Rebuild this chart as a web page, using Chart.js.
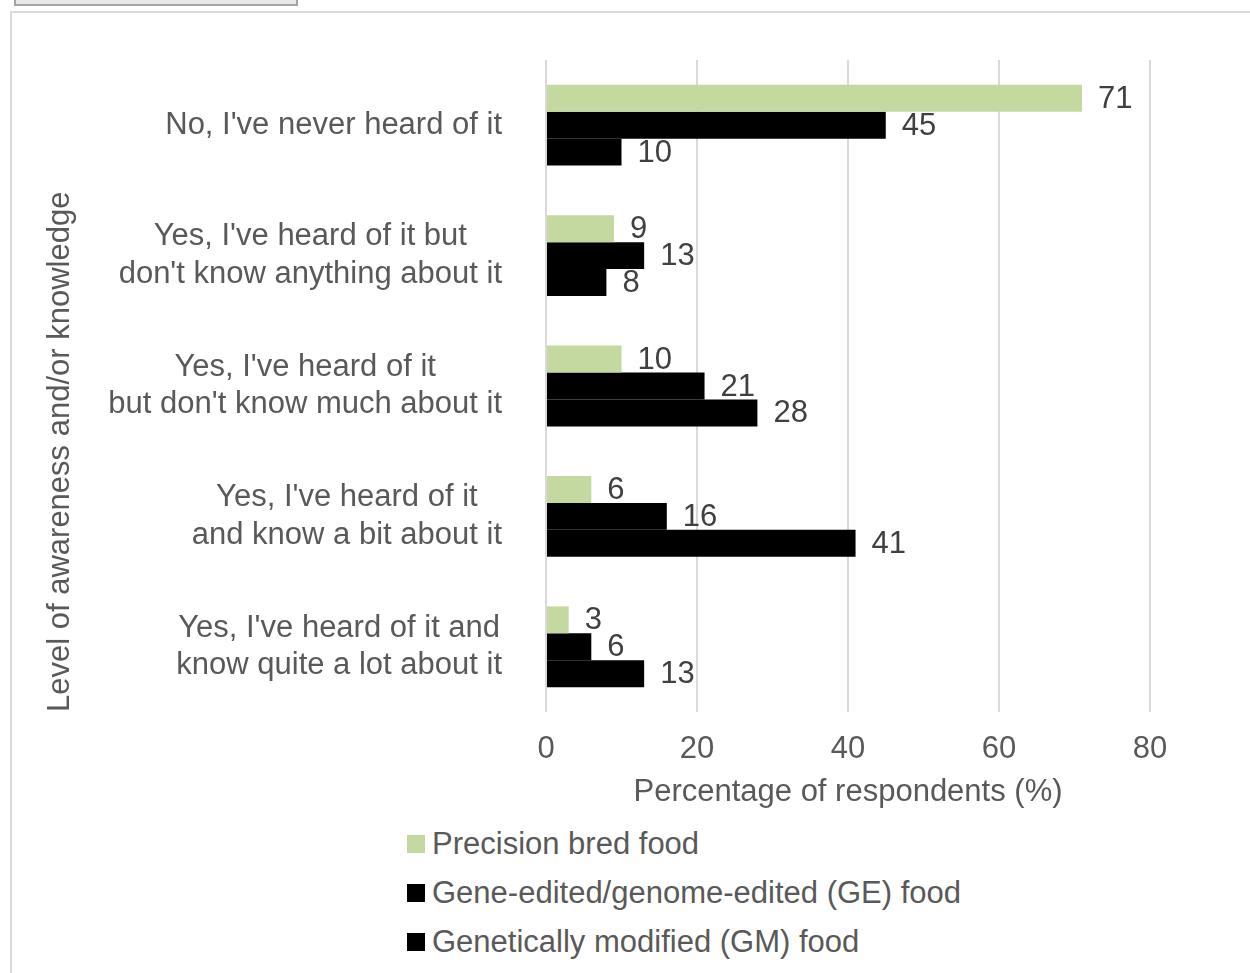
<!DOCTYPE html>
<html lang="en">
<head>
<meta charset="utf-8">
<title>Awareness of food breeding technologies</title>
<script src="https://cdn.jsdelivr.net/npm/chart.js@4.4.1/dist/chart.umd.min.js"></script>
<style>
  body { margin: 0; background: #fff; font-family: "Liberation Sans", Arial, sans-serif; overflow: hidden; }
  #wrap { position: relative; width: 1250px; height: 973px; overflow: hidden; }
  .tab { position: absolute; left: 14px; top: -30px; width: 280px; height: 32px; background: #e9e9e9; border: 2px solid #a6a6a6; }
  .frame { position: absolute; left: 10px; top: 11px; width: 1300px; height: 1000px; border: 2px solid #dadada; }
  #box { position: absolute; left: 0; top: 0; width: 1250px; height: 811px; }
  #legend { position: absolute; left: 407px; top: 819px; }
  .item { display: flex; align-items: center; height: 49px; font-size: 31px; color: #595959; }
  .sw { width: 18px; height: 18px; margin-right: 7px; }
</style>
</head>
<body>
<div id="wrap">
  <div class="tab"></div>
  <div class="frame"></div>
  <div id="box"><canvas id="myChart"></canvas></div>
  <div id="legend"></div>
</div>
<script>
var categories = [
  ["No, I've never heard of it"],
  ["Yes, I've heard of it but", "don't know anything about it"],
  ["Yes, I've heard of it", "but don't know much about it"],
  ["Yes, I've heard of it", "and know a bit about it"],
  ["Yes, I've heard of it and", "know quite a lot about it"]
];
var seriesNames = ['Precision bred food', 'Gene-edited/genome-edited (GE) food', 'Genetically modified (GM) food'];
var precisionBred = [71, 9, 10, 6, 3];
var geneEdited = [45, 13, 21, 16, 6];
var genModified = [10, 8, 28, 41, 13];
var xTicks = [0, 20, 40, 60, 80];
var colors = ['#c4d9a0', '#000000', '#000000'];

var FONT = '"Liberation Sans", Arial, sans-serif';
var SIZE = 31;
var GREY = '#595959';

// value next to the end of each bar
var barValues = {
  id: 'barValues',
  afterDatasetsDraw: function(chart) {
    var ctx = chart.ctx;
    ctx.save();
    ctx.font = SIZE + 'px ' + FONT;
    ctx.fillStyle = '#404040';
    ctx.textAlign = 'left';
    ctx.textBaseline = 'middle';
    chart.data.datasets.forEach(function(ds, i) {
      chart.getDatasetMeta(i).data.forEach(function(bar, j) {
        ctx.fillText(ds.data[j], bar.x + 16, bar.y + 1);
      });
    });
    ctx.restore();
  }
};

// category labels: each block right aligned, lines centred inside the block
var catLabels = {
  id: 'catLabels',
  afterDraw: function(chart) {
    var ctx = chart.ctx;
    var y = chart.scales.y;
    var lh = 37.5;
    ctx.save();
    ctx.font = SIZE + 'px ' + FONT;
    ctx.fillStyle = GREY;
    ctx.textAlign = 'center';
    ctx.textBaseline = 'middle';
    categories.forEach(function(lines, i) {
      var w = 0;
      lines.forEach(function(l) { w = Math.max(w, ctx.measureText(l).width); });
      var cx = y.right - 44 - w / 2;
      var cy = y.getPixelForTick(i) - (lines.length - 1) * lh / 2;
      lines.forEach(function(l, k) { ctx.fillText(l, cx, cy + k * lh); });
    });
    ctx.restore();
  }
};

var chart = new Chart(document.getElementById('myChart').getContext('2d'), {
  type: 'bar',
  data: {
    labels: categories,
    datasets: [
      { label: seriesNames[0], data: precisionBred, backgroundColor: colors[0] },
      { label: seriesNames[1], data: geneEdited, backgroundColor: colors[1] },
      { label: seriesNames[2], data: genModified, backgroundColor: colors[2] }
    ]
  },
  options: {
    indexAxis: 'y',
    responsive: true,
    maintainAspectRatio: false,
    animation: false,
    datasets: { bar: { categoryPercentage: 0.62, barPercentage: 1.0 } },
    layout: { padding: { left: 38, top: 60, right: 100, bottom: 0 } },
    plugins: { legend: { display: false }, tooltip: { enabled: false } },
    scales: {
      x: {
        min: 0, max: 80,
        afterBuildTicks: function(s) { s.ticks = xTicks.map(function(v) { return { value: v }; }); },
        afterFit: function(s) { s.height = 99; },
        grid: { color: '#d9d9d9', lineWidth: 2, drawTicks: false },
        border: { display: false },
        ticks: { color: GREY, padding: 19, font: { family: FONT, size: SIZE } },
        title: {
          display: true, text: 'Percentage of respondents (%)', color: GREY,
          font: { family: FONT, size: SIZE }, padding: { top: 8, bottom: 0 }
        }
      },
      y: {
        grid: { display: false, drawTicks: false },
        border: { display: false },
        ticks: { display: true, color: 'rgba(0,0,0,0)', font: { family: FONT, size: SIZE }, callback: function() { return ''; } },
        afterFit: function(s) { s.width = 508; },
        title: {
          display: true, text: 'Level of awareness and/or knowledge', color: GREY, align: 'start',
          font: { family: FONT, size: SIZE }, padding: { top: 4, bottom: 0 }
        }
      }
    }
  },
  plugins: [barValues, catLabels]
});

// legend, one entry per row
var legend = document.getElementById('legend');
chart.data.datasets.forEach(function(ds) {
  var row = document.createElement('div');
  row.className = 'item';
  row.innerHTML = '<span class="sw" style="background:' + ds.backgroundColor + '"></span>' + ds.label;
  legend.appendChild(row);
});
</script>
</body>
</html>
